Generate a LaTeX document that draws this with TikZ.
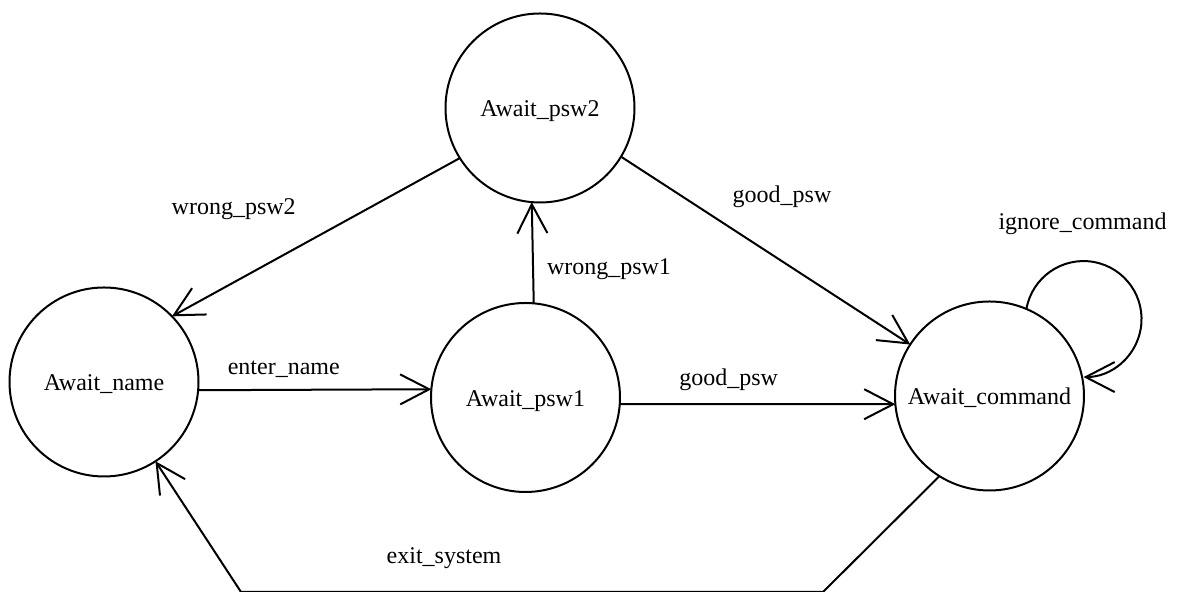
\documentclass[tikz,border=0pt]{standalone}
\usepackage{fontspec}
\setmainfont{Liberation Serif}
\usetikzlibrary{arrows.meta}
\begin{document}
\begin{tikzpicture}[x=0.5pt,y=0.5pt,
  state/.style={circle,draw,line width=1pt,minimum size=94.5pt,inner sep=0pt,
    outer sep=0pt,text height=9pt,text depth=0pt,font=\fontsize{12}{14}\selectfont},
  lbl/.style={anchor=base,inner sep=0pt,font=\fontsize{12}{14}\selectfont},
  trans/.style={line width=1pt,-{Straight Barb[length=14.5pt,width=15pt]}}]
\useasboundingbox (0,0) rectangle (1180,592);

% states
\node[state] (name) at (104,210)   {Await\_name};
\node[state] (psw1) at (525.5,194.5) {Await\_psw1};
\node[state] (psw2) at (540,484)   {Await\_psw2};
\node[state] (cmd)  at (989.5,196) {Await\_command};

% corners of the exit path along the bottom
\coordinate (c1) at (823,0);
\coordinate (c2) at (241,0);

% transitions
\draw[trans] (name.-5) -- (psw1.175.5);
\draw[trans] (psw1.85.5) -- (psw2.265.5);
\draw[trans] (psw1.-4.5) -- (cmd.185.5);
\draw[trans] (psw2.212.5) -- (name.44.6);
\draw[trans] (psw2.-31.5) -- (cmd.147.5);
\draw[trans] (cmd.67) arc[start angle=170,end angle=-90,radius=29pt];
\draw[trans] (cmd.238.4) -- (c1) -- (c2) -- (name.303.2);

% transition labels
\node[lbl] (l1) at (283.8,217)   {enter\_name};
\node[lbl] (l2) at (609,317.7)   {wrong\_psw1};
\node[lbl] (l3) at (728.6,206)   {good\_psw};
\node[lbl] (l4) at (233.7,377)   {wrong\_psw2};
\node[lbl] (l5) at (782,389)     {good\_psw};
\node[lbl] (l6) at (1082.5,362)  {ignore\_command};
\node[lbl] (l7) at (444,28.7)    {exit\_system};
\end{tikzpicture}
\end{document}
